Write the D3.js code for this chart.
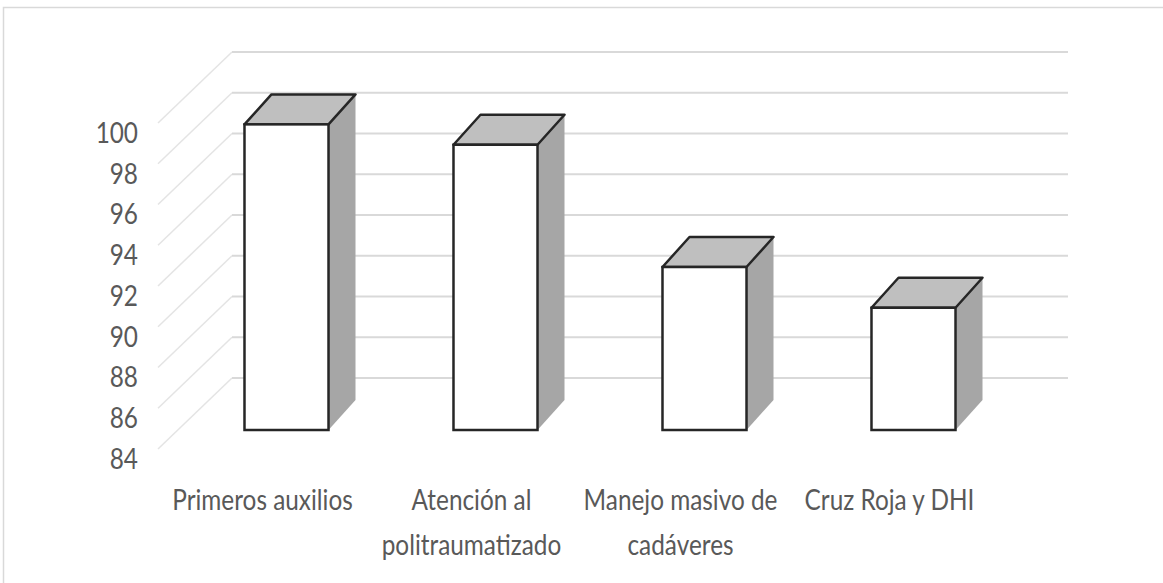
<!DOCTYPE html>
<html>
<head>
<meta charset="utf-8">
<script src="https://cdnjs.cloudflare.com/ajax/libs/d3/7.8.5/d3.min.js"></script>
<style>
  body { margin: 0; background: #fff; }
  text { font-family: Lato, "Open Sans", sans-serif; fill: #595959; }
</style>
</head>
<body>
<div id="chart"></div>
<script>
// chart data
var categories = ["Primeros auxilios", "Atención al politraumatizado", "Manejo masivo de cadáveres", "Cruz Roja y DHI"];
var values = [99, 98, 92, 90];
var yTicks = [84, 86, 88, 90, 92, 94, 96, 98, 100];

var width = 1163, height = 583;
var squeeze = 0.84;   // the original font is a narrow one

var svg = d3.select("#chart").append("svg")
    .attr("width", width)
    .attr("height", height);

// outer chart border
svg.append("rect")
    .attr("x", 3.5).attr("y", 7.5)
    .attr("width", 1300).attr("height", 700)
    .attr("fill", "none")
    .attr("stroke", "#d9d9d9")
    .attr("stroke-width", 1.5);

// scales on the front plane of the floor
var x = d3.scaleBand()
    .domain(categories)
    .range([158, 994])
    .paddingInner(0.598)
    .paddingOuter(0.299);

var y = d3.scaleLinear()
    .domain([84, 100])
    .range([452, 126]);

// depth offsets
var wall = {dx: 74, dy: -74};
var barShift = {dx: 24, dy: -22};
var barDepth = {dx: 27, dy: -30};

var grid = svg.append("g");

// side wall lines
grid.selectAll(".side")
    .data(yTicks)
  .enter().append("line")
    .attr("x1", 158).attr("y1", function(d) { return y(d) - 3; })
    .attr("x2", 158 + wall.dx).attr("y2", function(d) { return y(d) + wall.dy; })
    .attr("stroke", "#e4e4e4")
    .attr("stroke-width", 1.5);

// back wall lines
grid.selectAll(".back")
    .data(yTicks)
  .enter().append("line")
    .attr("x1", 158 + wall.dx).attr("y1", function(d) { return y(d) + wall.dy; })
    .attr("x2", 994 + wall.dx).attr("y2", function(d) { return y(d) + wall.dy; })
    .attr("stroke", "#d9d9d9")
    .attr("stroke-width", 2);

// y tick labels
svg.selectAll(".ytick")
    .data(yTicks)
  .enter().append("text")
    .attr("transform", function(d) { return "translate(138," + (y(d) + 6) + ") scale(" + squeeze + ",1)"; })
    .attr("text-anchor", "end")
    .attr("dominant-baseline", "central")
    .style("font-size", "29px")
    .text(function(d) { return d; });

// bars
var bw = x.bandwidth();
var bars = svg.selectAll(".bar")
    .data(categories)
  .enter().append("g");

bars.each(function(c, i) {
    var g = d3.select(this);
    var x0 = x(c) + barShift.dx, x1 = x0 + bw;
    var yt = y(values[i]) + barShift.dy, yb = y(84) + barShift.dy;
    var line = d3.line();

    g.append("path")
        .attr("d", line([[x1, yt], [x1 + barDepth.dx, yt + barDepth.dy],
            [x1 + barDepth.dx, yb + barDepth.dy], [x1, yb]]) + "Z")
        .attr("fill", "#a6a6a6");

    g.append("path")
        .attr("d", line([[x0, yt], [x1, yt], [x1 + barDepth.dx, yt + barDepth.dy],
            [x0 + barDepth.dx, yt + barDepth.dy]]) + "Z")
        .attr("fill", "#bfbfbf")
        .attr("stroke", "#262626")
        .attr("stroke-width", 2.5)
        .attr("stroke-linejoin", "round");

    g.append("rect")
        .attr("x", x0).attr("y", yt)
        .attr("width", bw).attr("height", yb - yt)
        .attr("fill", "#ffffff")
        .attr("stroke", "#262626")
        .attr("stroke-width", 2.5);
});

// category labels, wrapped
var labels = svg.selectAll(".xlab")
    .data(categories)
  .enter().append("text")
    .attr("text-anchor", "middle")
    .style("font-size", "29px")
    .attr("transform", function(d) { return "translate(" + (x(d) + bw / 2) + ",510) scale(" + squeeze + ",1)"; });

labels.each(function(d) {
    var t = d3.select(this);
    var words = d.split(" ");
    var lines = [], cur = [];
    var probe = t.append("tspan");
    words.forEach(function(w) {
        probe.text(cur.concat([w]).join(" "));
        if (cur.length && probe.node().getComputedTextLength() * squeeze > 215) {
            lines.push(cur.join(" "));
            cur = [w];
        } else {
            cur.push(w);
        }
    });
    lines.push(cur.join(" "));
    probe.remove();
    lines.forEach(function(l, k) {
        t.append("tspan").attr("x", 0).attr("dy", k ? 45 : 0).text(l);
    });
});
</script>
</body>
</html>
